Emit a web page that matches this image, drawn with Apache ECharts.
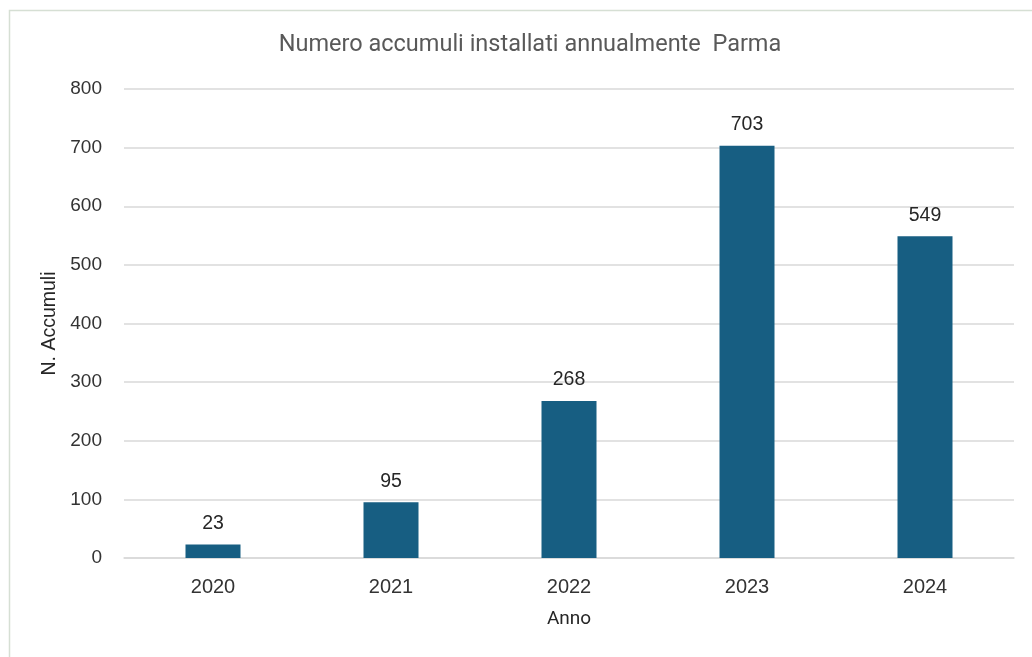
<!DOCTYPE html>
<html>
<head>
<meta charset="utf-8">
<script src="https://cdn.jsdelivr.net/npm/echarts@6/dist/echarts.min.js"></script>
<style>
  html, body { margin: 0; padding: 0; background: #ffffff; }
  #chart { width: 1032px; height: 657px; }
</style>
</head>
<body>
<div id="chart"></div>
<script>
// Installed batteries per year in Parma
const years = ['2020', '2021', '2022', '2023', '2024'];
const accumuli = [23, 95, 268, 703, 549];
const yTicks = [0, 100, 200, 300, 400, 500, 600, 700, 800];

const chart = echarts.init(document.getElementById('chart'));
chart.setOption({
  animation: false,
  backgroundColor: '#ffffff',
  graphic: [{
    type: 'rect',
    shape: { x: 9.5, y: 10.5, width: 1040, height: 660 },
    style: { fill: 'none', stroke: '#d6dfd4', lineWidth: 1.5 },
    silent: true,
    z: 0
  }],
  title: {
    text: 'Numero accumuli installati annualmente  Parma',
    left: 525,
    textAlign: 'center',
    top: 28,
    textStyle: {
      fontFamily: 'Roboto, Liberation Sans',
      fontWeight: 'normal',
      fontSize: 23.5,
      color: '#595959'
    }
  },
  grid: { left: 124, right: 18, top: 89, bottom: 99, containLabel: false },
  xAxis: {
    type: 'category',
    data: years,
    name: 'Anno',
    nameLocation: 'middle',
    nameGap: 52,
    nameTextStyle: { fontFamily: 'Roboto, Liberation Sans', fontSize: 19, color: '#262626' },
    axisLine: { show: true, lineStyle: { color: '#d9d9d9', width: 1.5 } },
    axisTick: { show: false },
    axisLabel: { fontFamily: 'Liberation Sans, Arial', fontSize: 20, color: '#333333', margin: 19 },
    z: 1
  },
  yAxis: {
    type: 'value',
    min: yTicks[0],
    max: yTicks[yTicks.length - 1],
    interval: 100,
    name: 'N. Accumuli',
    nameLocation: 'middle',
    nameRotate: 90,
    nameGap: 64,
    nameTextStyle: { fontFamily: 'Liberation Sans, Arial', fontSize: 19.5, color: '#262626' },
    axisLine: { show: false },
    axisTick: { show: false },
    axisLabel: { fontFamily: 'Liberation Sans, Arial', fontSize: 19, color: '#333333', margin: 22 },
    splitLine: { lineStyle: { color: '#d9d9d9', width: 1.5 } }
  },
  series: [{
    type: 'bar',
    data: accumuli,
    barWidth: 55,
    itemStyle: { color: '#175e82' },
    label: {
      show: true,
      position: 'top',
      distance: 11,
      fontFamily: 'Liberation Sans, Arial',
      fontSize: 19.5,
      color: '#262626'
    }
  }]
});
</script>
</body>
</html>
